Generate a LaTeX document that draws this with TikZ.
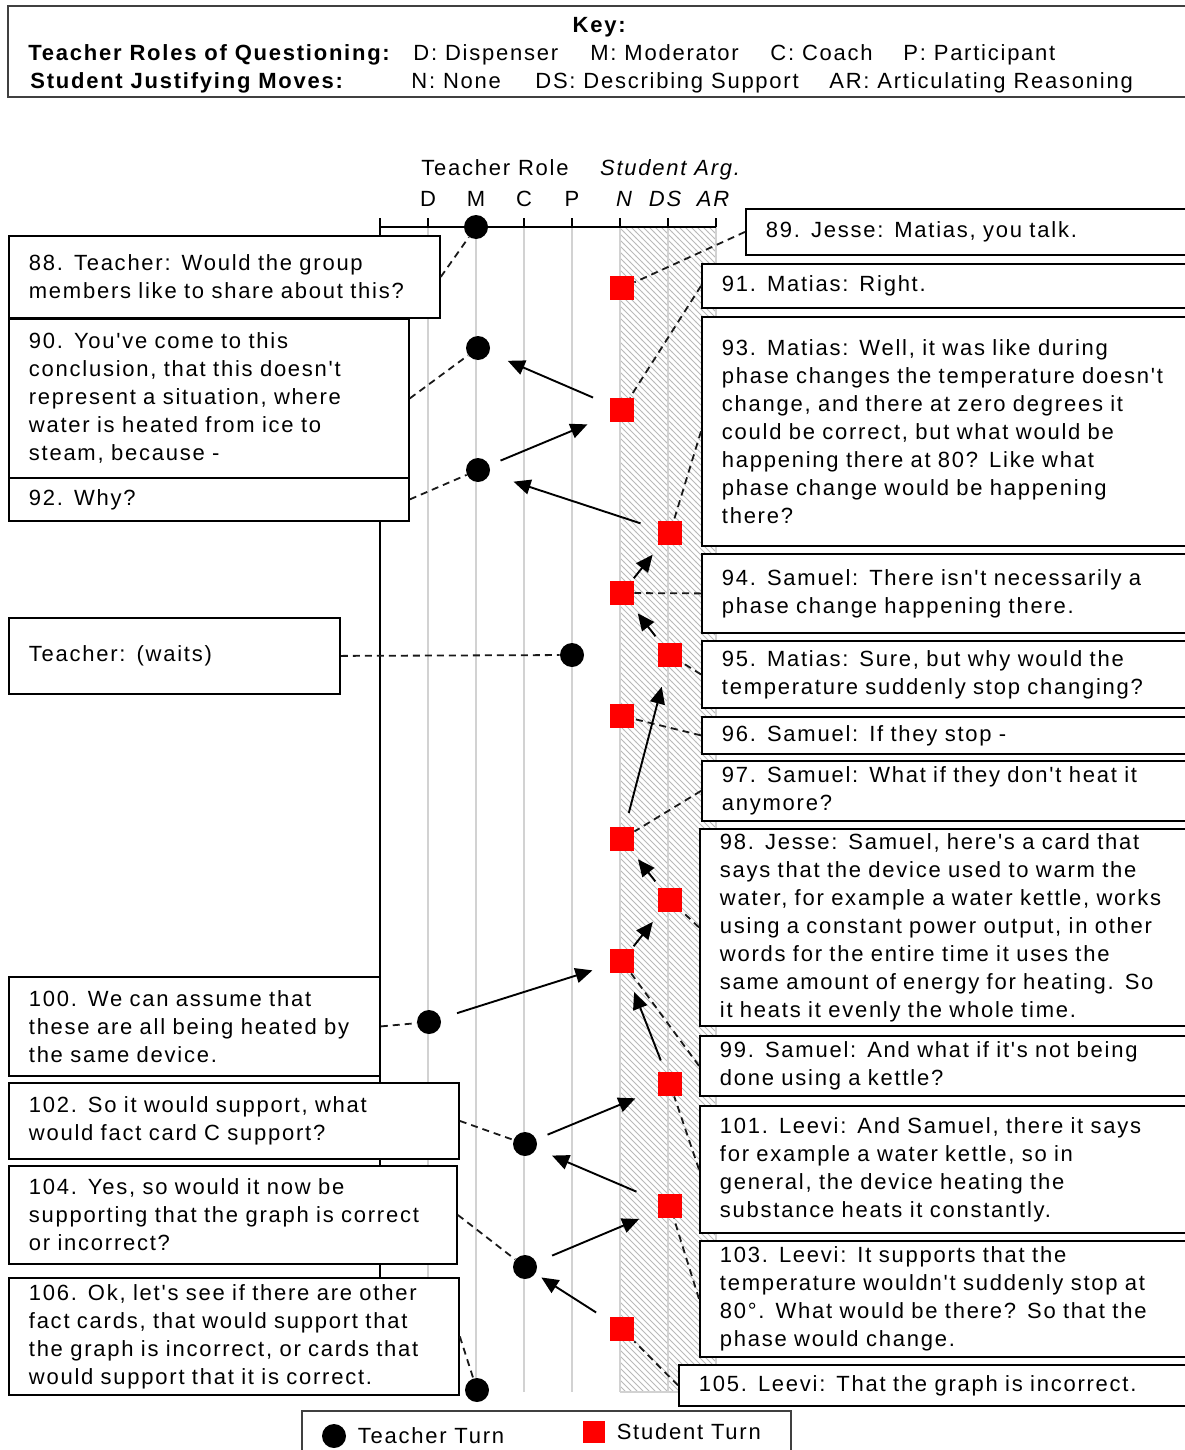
\documentclass[tikz,border=0pt]{standalone}
\usepackage{fontspec}
\setmainfont{Liberation Sans}[LetterSpace=8,Ligatures=TeXOff]
\usetikzlibrary{arrows.meta,patterns,positioning}
\tikzset{
    tturn/.style={
    circle,fill=black,minimum size=12pt,inner sep=0pt
    },
    sturn/.style={
    rectangle,fill=red,minimum size=12pt,inner sep=0pt
    },
    turnbox/.style={
    rectangle,draw=black,fill=white,line width=0.9pt,anchor=north west,
    align=left,inner xsep=10pt,inner ysep=0pt,font=\fontsize{11}{14}\selectfont
    },
    keybox/.style={
    rectangle,draw=black!75,line width=1pt
    },
    link/.style={
    dash pattern=on 3.5pt off 2.5pt,line width=0.9pt,draw=black!90
    },
    move/.style={
    -{Triangle[length=8.5pt,width=7.5pt]},line width=0.95pt,shorten <=9pt,shorten >=10pt
    },
    role/.style={
    font=\fontsize{11}{13}\selectfont,inner sep=0pt,anchor=base
    },
    keytext/.style={
    font=\fontsize{11}{13}\selectfont,inner sep=0pt,anchor=base west
    },
}
\begin{document}
\begin{tikzpicture}[x=0.5pt,y=-0.5pt]
   \useasboundingbox (0,0) rectangle (1184,1450);

   \draw[keybox] (8,6) rectangle (1200,97);
   \node[role] (key) at (600,33) {\textbf{Key:}};
   \node[keytext] (kt) at (28,61) {\textbf{Teacher Roles of Questioning:}};
   \node[keytext] (kd) at (413,61) {D: Dispenser};
   \node[keytext] (km) at (590,61) {M: Moderator};
   \node[keytext] (kc) at (770,61) {C: Coach};
   \node[keytext] (kp) at (903,61) {P: Participant};
   \node[keytext] (ks) at (30,89) {\textbf{Student Justifying  Moves:}};
   \node[keytext] (kn) at (411,89) {N: None};
   \node[keytext] (kds) at (535,89) {DS: Describing Support};
   \node[keytext] (kar) at (829,89) {AR: Articulating Reasoning};

   \node[role] (trole) at (495,176) {Teacher Role};
   \node[role] (sarg) at (671,176) {\textit{Student Arg.}};
   \node[role] (hd) at (428,206) {D};
   \node[role] (hm) at (476,206) {M};
   \node[role] (hc) at (524,206) {C};
   \node[role] (hp) at (572,206) {P};
   \node[role] (hn) at (625,206) {\textit{N}};
   \node[role] (hds) at (666,206) {\textit{DS}};
   \node[role] (har) at (714,206) {\textit{AR}};

   \fill[pattern=north west lines,pattern color=gray!55] (620,227) rectangle (716,1392);
   \foreach \x in {428,476,...,716}
      \draw[gray!35,line width=0.7pt] (\x,227) -- (\x,1392);
   \draw[gray!35,line width=0.7pt] (620,1392) -- (716,1392);
   \draw[line width=1pt] (380,1395) -- (380,227) -- (716,227);
   \foreach \x in {380,428,...,716}
      \draw[line width=0.8pt] (\x,218) -- (\x,227);

   \node[turnbox,text width=195.5pt,minimum height=41pt] (b88) at (8,235)
      {88. Teacher:  Would the group\\members like to share about this?};
   \node[turnbox,text width=180pt,minimum height=79.5pt] (b90) at (8,318)
      {90.  You've come to this\\conclusion, that this doesn't\\represent  a situation, where\\water is heated from  ice to\\steam, because -};
   \node[turnbox,text width=180pt,minimum height=21.5pt] (b92) at (8,477)
      {92. Why?};
   \node[turnbox,text width=145.5pt,minimum height=38pt] (bwait) at (8,617)
      {Teacher:  (waits)};
   \node[turnbox,text width=165.5pt,minimum height=49.5pt] (b100) at (8,976)
      {100.  We can assume that\\these are all being heated by\\the same device.};
   \node[turnbox,text width=205pt,minimum height=38pt] (b102) at (8,1082)
      {102. So it would  support, what\\would fact card C support?};
   \node[turnbox,text width=204pt,minimum height=49pt] (b104) at (8,1165)
      {104. Yes, so would it now be\\supporting that the graph  is correct\\or incorrect?};
   \node[turnbox,text width=205pt,minimum height=58.5pt] (b106) at (8,1277)
      {106.  Ok, let's see if there are other\\fact cards, that would  support that\\the graph is incorrect, or cards that\\would support that it is correct.};

   \node[turnbox,text width=230pt,minimum height=23pt] (b89) at (745,208)
      {89. Jesse: Matias, you talk.};
   \node[turnbox,text width=250pt,minimum height=22pt] (b91) at (701,263)
      {91. Matias: Right.};
   \node[turnbox,text width=250pt,minimum height=114.5pt] (b93) at (701,316)
      {93. Matias: Well, it was like during\\phase changes the temperature doesn't\\change, and there at zero degrees it\\could be correct, but what would be\\happening there at 80?  Like what\\phase change would be happening\\there?};
   \node[turnbox,text width=250pt,minimum height=39.5pt] (b94) at (701,553)
      {94. Samuel: There  isn't necessarily a\\phase change happening there.};
   \node[turnbox,text width=250pt,minimum height=33.5pt] (b95) at (701,640)
      {95. Matias: Sure, but why would the\\temperature suddenly stop changing?};
   \node[turnbox,text width=250pt,minimum height=18.5pt] (b96) at (701,716)
      {96. Samuel: If they stop -};
   \node[turnbox,text width=250pt,minimum height=30pt] (b97) at (701,760)
      {97. Samuel: What if they don't heat it\\anymore?};
   \node[turnbox,text width=251pt,minimum height=98.5pt] (b98) at (699,828)
      {98. Jesse: Samuel, here's a card that\\says that the device used to warm the\\water, for example a water kettle, works\\using a constant power output, in other\\words for the entire time it uses the\\same amount of energy for heating.  So\\it heats it evenly the whole time.};
   \node[turnbox,text width=251pt,minimum height=30pt] (b99) at (699,1035)
      {99. Samuel: And what if it's not being\\done using a kettle?};
   \node[turnbox,text width=251pt,minimum height=63.5pt] (b101) at (699,1105)
      {101. Leevi:  And Samuel, there it says\\for example a water kettle, so in\\general, the device heating the\\substance heats it constantly.};
   \node[turnbox,text width=251pt,minimum height=58pt] (b103) at (699,1240)
      {103. Leevi:  It supports that the\\temperature wouldn't suddenly stop at\\80°.  What would be there?  So that the\\phase would change.};
   \node[turnbox,text width=261pt,minimum height=20.5pt] (b105) at (678,1364)
      {105.  Leevi:  That the graph  is incorrect.};

   \node[tturn] (t88) at (476,227) {};
   \node[tturn] (t90) at (478,348) {};
   \node[tturn] (t92) at (478,470) {};
   \node[tturn] (twait) at (572,655) {};
   \node[tturn] (t100) at (429,1022) {};
   \node[tturn] (t102) at (525,1144) {};
   \node[tturn] (t104) at (525,1267) {};
   \node[tturn] (t106) at (477,1390) {};

   \node[sturn] (s89) at (622,288) {};
   \node[sturn] (s91) at (622,410) {};
   \node[sturn] (s93) at (670,533) {};
   \node[sturn] (s94) at (622,593) {};
   \node[sturn] (s95) at (670,655) {};
   \node[sturn] (s96) at (622,716) {};
   \node[sturn] (s97) at (622,839) {};
   \node[sturn] (s98) at (670,900) {};
   \node[sturn] (s99) at (622,961) {};
   \node[sturn] (s101) at (670,1084) {};
   \node[sturn] (s103) at (670,1206) {};
   \node[sturn] (s105) at (622,1329) {};

  \path[link]
    (b88.east) edge (t88)
    (b90.east) edge (t90)
    (b92.east) edge (t92)
    (bwait.east) edge (twait)
    (b100.east) edge (t100)
    (b102.east) edge (t102)
    (b104.east) edge (t104)
    (b106.east) edge (t106)
    (b89.west) edge (s89)
    (b91.west) edge (s91)
    (b93.west) edge (s93)
    (b94.west) edge (s94)
    (b95.west) edge (s95)
    (b96.west) edge (s96)
    (b97.west) edge (s97)
    (b98.west) edge (s98)
    (b99.west) edge (s99)
    (b101.west) edge (s101)
    (b103.west) edge (s103)
    (b105.west) edge (s105);

  \path[move]
    (s91) edge (t90)
    (t92) edge[shorten <=6pt,shorten >=12pt] (s91)
    (s93) edge[shorten >=12.5pt] (t92)
    (s94) edge[shorten <=1.5pt,shorten >=6pt] (s93)
    (s95) edge[shorten <=4pt,shorten >=5pt] (s94)
    (s97) edge[shorten <=7pt] (s95)
    (s98) edge[shorten <=4pt,shorten >=5pt] (s97)
    (s99) edge[shorten <=1.5pt,shorten >=6pt] (s98)
    (t100) edge[shorten <=8.5pt,shorten >=9pt] (s99)
    (s101) edge[shorten <=6pt] (s99)
    (t102) edge[shorten <=6pt,shorten >=12pt] (s101)
    (s103) edge[shorten <=11.5pt,shorten >=8.5pt] (t102)
    (t104) edge[shorten <=8.5pt] (s103)
    (s105) edge[shorten <=8pt,shorten >=3.5pt] (t104);

   \draw[keybox] (302,1411) rectangle (791,1470);
   \node[tturn] (legt) at (334,1436) {};
   \node[keytext,anchor=west,right=5.5pt of legt] (legtl) {Teacher  Turn};
   \node[sturn,minimum size=11pt] (legs) at (594,1432) {};
   \node[keytext,anchor=west,right=5.5pt of legs] (legsl) {Student  Turn};
\end{tikzpicture}
\end{document}
